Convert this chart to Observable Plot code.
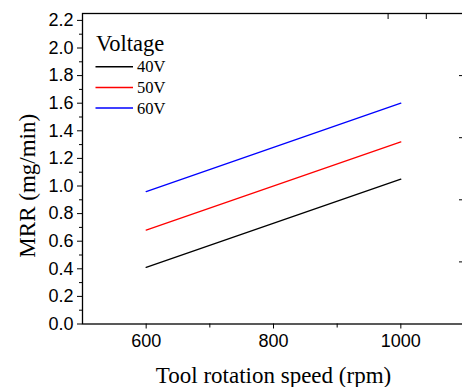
<!DOCTYPE html>
<html><head><meta charset="utf-8">
<script src="https://cdn.jsdelivr.net/npm/d3@7"></script>
<script src="https://cdn.jsdelivr.net/npm/@observablehq/plot@0.6"></script>
<style>
html,body{margin:0;padding:0;background:#fff;overflow:hidden;}
#wrap{position:relative;width:462px;height:387px;overflow:hidden;}
#legend{position:absolute;left:0;top:0;}
</style></head><body><div id="wrap"></div>
<script>
const rpm = [600, 1000];
const voltages = ["40V", "50V", "60V"];
const colors = ["#000000", "#ff0000", "#0000ff"];
const mrr40 = [0.41, 1.05];
const mrr50 = [0.68, 1.32];
const mrr60 = [0.96, 1.60];
const yMajor = [0, 0.2, 0.4, 0.6, 0.8, 1.0, 1.2, 1.4, 1.6, 1.8, 2.0, 2.2];
const yMinor = [0.1, 0.3, 0.5, 0.7, 0.9, 1.1, 1.3, 1.5, 1.7, 1.9, 2.1];
const xMajor = [600, 800, 1000];
const xMinor = [700, 900];
const rightTicks = [1.80, 1.35, 0.90, 0.45];
const topTicks = [980, 1040];

const series = [mrr40, mrr50, mrr60];
const rows = voltages.flatMap((v, i) => series[i].map((m, j) => ({v, rpm: rpm[j], mrr: m})));

const serif = "'Liberation Serif','Times New Roman',serif";
const sans = "'Liberation Sans',Arial,sans-serif";

const plot = Plot.plot({
  width: 462, height: 387,
  marginLeft: 82, marginTop: 13, marginBottom: 63.5, marginRight: -2,
  x: {domain: [500, 1100]},
  y: {domain: [0, 2.25]},
  color: {domain: voltages, range: colors},
  style: {fontFamily: sans, overflow: "hidden", background: "#fff", color: "#000"},
  marks: [
    Plot.axisY(yMajor, {tickSize: 5, tickPadding: 4, tickFormat: d => d.toFixed(1), fontSize: 18, label: null}),
    Plot.axisY(yMinor, {tickSize: 3, tickFormat: () => "", label: null}),
    Plot.axisX(xMajor, {tickSize: 5, tickPadding: 5, tickFormat: d => String(d), fontSize: 18, label: null}),
    Plot.axisX(xMinor, {tickSize: 4, tickFormat: () => "", label: null}),
    Plot.axisY(rightTicks, {anchor: "right", tickSize: -6, tickFormat: () => "", label: null}),
    Plot.axisX(topTicks, {anchor: "top", tickSize: -5, tickFormat: () => "", label: null}),
    Plot.line(rows, {x: "rpm", y: "mrr", z: "v", stroke: "v", strokeWidth: 1.3}),
    Plot.frame({stroke: "#000", strokeWidth: 1.3}),
    Plot.text(["MRR (mg/min)"], {text: d => d, frameAnchor: "left", textAnchor: "middle", lineAnchor: "middle", dx: -55, dy: 17, rotate: -90, fontFamily: serif, fontSize: 23, fill: "#000"}),
    Plot.text(["Tool rotation speed (rpm)"], {text: d => d, frameAnchor: "bottom", textAnchor: "middle", lineAnchor: "middle", dy: 52, fontFamily: serif, fontSize: 23, fill: "#000"})
  ]
});
document.getElementById("wrap").appendChild(plot);

// legend overlay
const leg = d3.select("#wrap").append("svg").attr("id", "legend")
  .attr("width", 200).attr("height", 120)
  .style("font-family", serif);
leg.append("text").attr("x", 96).attr("y", 51).attr("font-size", 22.5).text("Voltage");
voltages.forEach((v, i) => {
  const y = 66.7 + i * 20.7;
  leg.append("line").attr("x1", 95.5).attr("x2", 133).attr("y1", y).attr("y2", y)
    .attr("stroke", colors[i]).attr("stroke-width", 1.5);
  leg.append("text").attr("x", 137).attr("y", y + 5.5).attr("font-size", 16.5).text(v);
});
</script>
</body></html>
